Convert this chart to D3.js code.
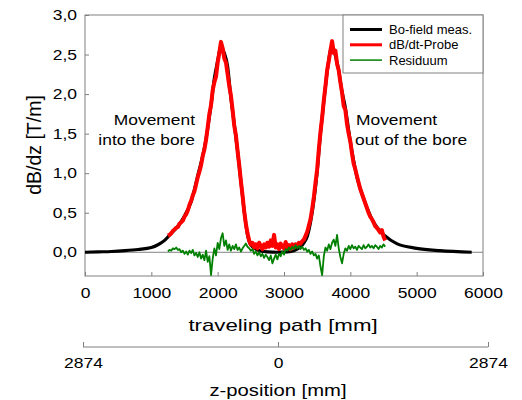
<!DOCTYPE html>
<html>
<head>
<meta charset="utf-8" />
<title>dB/dz</title>
<script src="https://cdn.jsdelivr.net/npm/d3@7/dist/d3.min.js"></script>
<style>
  body { margin: 0; background: #fff; }
  svg { font-family: "Liberation Sans", Arial, sans-serif; }
</style>
</head>
<body>
<svg id="chart" width="522" height="400"></svg>
<script>
// Bo-field measurement (smooth curve), traveling path in mm
var fieldX = [0,200,400,600,800,1000,1100,1200,1300,1400,1500,1600,1700,1800,1900,1950,2000,2050,2100,2150,2200,2250,2300,2350,2400,2450,2500,2600,2750,2900,3050,3150,3250,3300,3350,3400,3450,3500,3550,3600,3650,3700,3730,3770,3820,3870,3920,4000,4100,4200,4350,4520,4700,5000,5350,5830];
var fieldY = [0,0.005,0.01,0.02,0.035,0.06,0.095,0.15,0.24,0.33,0.46,0.64,0.97,1.32,1.86,2.2,2.42,2.6,2.52,2.35,1.95,1.62,1.28,0.9,0.52,0.22,0.09,0.03,0.005,0,0.005,0.02,0.07,0.12,0.2,0.38,0.65,1.02,1.5,1.9,2.28,2.55,2.6,2.5,2.32,2.05,1.85,1.4,0.95,0.68,0.38,0.21,0.11,0.05,0.02,0];

// dB/dt probe and residuum, sampled every 25 mm starting at 1250 mm
var probeStart = 1250, probeStep = 25;
var probeY = [0.21,0.22,0.24,0.27,0.29,0.31,0.32,0.36,0.38,0.40,0.45,0.48,0.53,0.60,0.65,0.72,0.77,0.86,0.95,1.02,1.10,1.22,1.30,1.42,1.58,1.75,1.86,2.05,2.15,2.22,2.40,2.52,2.66,2.58,2.45,2.40,2.25,2.10,1.98,1.80,1.60,1.48,1.28,1.10,0.90,0.72,0.52,0.36,0.24,0.15,0.10,0.12,0.06,0.10,0.05,0.12,0.08,0.04,0.10,0.06,0.12,0.07,0.15,0.08,0.22,0.06,0.10,0.04,0.11,0.07,0.05,0.13,0.06,0.09,0.04,0.10,0.06,0.10,0.08,0.12,0.11,0.14,0.16,0.21,0.26,0.34,0.42,0.55,0.70,0.88,1.05,1.30,1.52,1.70,1.92,2.10,2.30,2.42,2.55,2.67,2.52,2.55,2.38,2.30,2.15,2.02,1.85,1.80,1.62,1.50,1.40,1.25,1.12,1.05,0.96,0.88,0.80,0.74,0.68,0.62,0.56,0.50,0.45,0.42,0.38,0.33,0.31,0.28,0.25,0.28,0.20,0.15];
var residY = [0.01,0.03,0.02,0.05,0.04,0.06,0.03,0.04,0.00,0.02,-0.02,0.01,-0.03,0.02,-0.01,0.03,-0.04,-0.01,-0.06,0.00,-0.08,-0.03,-0.10,0.02,-0.12,-0.05,-0.29,-0.08,0.05,-0.04,0.12,0.04,0.18,0.24,0.08,0.15,0.03,0.10,0.02,0.08,0.04,0.10,0.03,0.06,0.01,0.05,0.08,0.11,0.07,0.05,0.02,0.04,-0.02,0.01,-0.04,0.00,-0.05,-0.02,-0.07,-0.03,-0.06,-0.10,-0.04,-0.14,-0.08,-0.03,-0.09,-0.02,-0.05,0.01,-0.03,0.04,0.02,0.06,0.03,0.07,0.04,0.09,0.05,0.08,0.04,0.07,0.03,0.05,0.01,0.03,-0.02,0.01,-0.04,-0.02,-0.08,-0.04,-0.18,-0.29,-0.05,0.06,0.02,0.10,0.04,0.12,0.16,0.08,0.22,0.05,-0.06,-0.14,-0.02,0.05,0.02,0.08,0.04,0.09,0.05,0.07,0.03,0.08,0.06,0.04,0.09,0.05,0.07,0.10,0.06,0.08,0.05,0.09,0.07,0.04,0.08,0.06,0.10,0.07];

var xTicks = [0,1000,2000,3000,4000,5000,6000];
var yTicks = [0,0.5,1,1.5,2,2.5,3];
var zTicks = [-2874,0,2874];
var legendNames = ["Bo-field meas.","dB/dt-Probe","Residuum"];
var legendColors = ["#000000","#ff0000","#008000"];

var svg = d3.select("#chart");
var x = d3.scaleLinear().domain([0,6000]).range([85,483]);
var y = d3.scaleLinear().domain([-0.3,3]).range([276,15]);
var z = d3.scaleLinear().domain([-2874,0,2874]).range([83,278,488]);
var fmt = function (d) { return d3.format(".1f")(d).replace(".", ","); };
var SX = 1.25; // labels in the reference are drawn wide

// frame
svg.append("rect").attr("x",85).attr("y",15).attr("width",398).attr("height",261)
  .attr("fill","none").attr("stroke","#808080").attr("stroke-width",1);
svg.append("line").attr("x1",85).attr("x2",483).attr("y1",y(0)).attr("y2",y(0))
  .attr("stroke","#808080").attr("stroke-width",1);

// axes
var gx = svg.append("g").attr("transform","translate(0,276)")
  .call(d3.axisBottom(x).tickValues(xTicks).tickFormat(d3.format("d")).tickSizeInner(-4).tickSizeOuter(0).tickPadding(12));
var gy = svg.append("g").attr("transform","translate(85,0)")
  .call(d3.axisLeft(y).tickValues(yTicks).tickFormat(fmt).tickSizeInner(-4).tickSizeOuter(0));
var gz = svg.append("g").attr("transform","translate(0,347)")
  .call(d3.axisBottom(z).tickValues(zTicks).tickFormat(function (d) { return Math.abs(d); }).tickSizeInner(-5).tickSizeOuter(0).tickPadding(11));
[gx, gy, gz].forEach(function (g) {
  g.selectAll(".tick line").attr("stroke","#808080");
  g.selectAll("text").attr("font-family","Liberation Sans, Arial, sans-serif")
    .attr("font-size",14).attr("fill","#000").attr("transform","scale(" + SX + ",1)");
});
gy.selectAll("text").attr("x", -8 / SX);
gx.select(".domain").remove();
gy.select(".domain").remove();
gz.select(".domain").attr("stroke","#808080").attr("d","M83,0H488");

// curves
var line = d3.line().x(function (d) { return x(d[0]); }).y(function (d) { return y(d[1]); });
var fieldPts = fieldX.map(function (v, i) { return [v, fieldY[i]]; });
var probePts = probeY.map(function (v, i) { return [probeStart + i * probeStep, v]; });
var residPts = residY.map(function (v, i) { return [probeStart + i * probeStep, v]; });

svg.append("path").datum(fieldPts).attr("d", line.curve(d3.curveMonotoneX))
  .attr("fill","none").attr("stroke","#000").attr("stroke-width",3.2);
svg.append("path").datum(probePts).attr("d", line.curve(d3.curveLinear))
  .attr("fill","none").attr("stroke","#ff0000").attr("stroke-width",4).attr("stroke-linejoin","round");
svg.append("path").datum(residPts).attr("d", line.curve(d3.curveLinear))
  .attr("fill","none").attr("stroke","#008000").attr("stroke-width",1.8).attr("stroke-linejoin","round");

// annotations
function wideText(px, py, anchor, size, sx, str) {
  svg.append("text").attr("transform","translate(" + px + "," + py + ") scale(" + sx + ",1)")
    .attr("text-anchor", anchor).attr("font-size", size).attr("fill","#000").text(str);
}
wideText(195, 125, "end", 14.5, 1.2, "Movement");
wideText(195, 145, "end", 14.5, 1.2, "into the bore");
wideText(356, 125, "start", 14.5, 1.2, "Movement");
wideText(355, 145, "start", 14.5, 1.2, "out of the bore");

// legend
var leg = svg.append("g");
leg.append("rect").attr("x",343).attr("y",15).attr("width",140).attr("height",58)
  .attr("fill","#fff").attr("stroke","#808080");
legendNames.forEach(function (n, i) {
  var yy = 29.5 + i * 15.3;
  leg.append("line").attr("x1",350).attr("x2",382).attr("y1",yy).attr("y2",yy)
    .attr("stroke",legendColors[i]).attr("stroke-width",[3,3,1.5][i]);
  leg.append("text").attr("x",389).attr("y",yy + 4.5).attr("font-size",13).text(n);
});

// titles
wideText(283, 331, "middle", 17, 1.31, "traveling path [mm]");
wideText(278, 396, "middle", 17, 1.19, "z-position [mm]");
svg.append("text").attr("transform","translate(41,145) rotate(-90)").attr("text-anchor","middle")
  .attr("font-size",19.5).text("dB/dz [T/m]");
</script>
</body>
</html>
